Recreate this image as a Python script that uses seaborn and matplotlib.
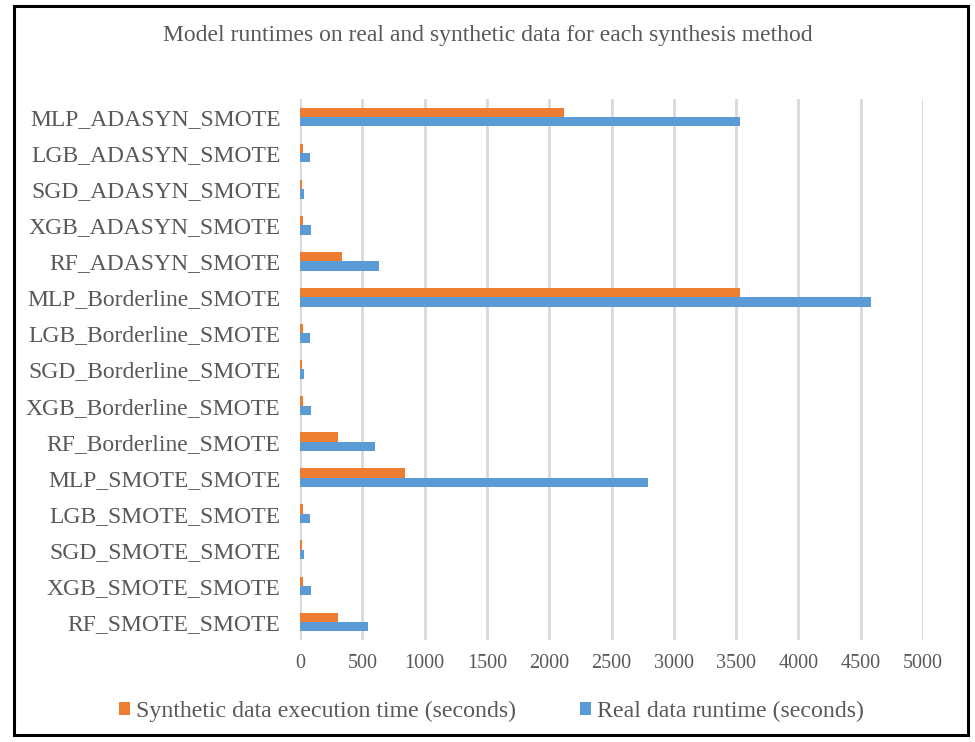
import matplotlib
matplotlib.use("Agg")
import matplotlib.pyplot as plt
from matplotlib.patches import Rectangle, Patch
import seaborn as sns
import pandas as pd

categories = [
    "MLP_ADASYN_SMOTE", "LGB_ADASYN_SMOTE", "SGD_ADASYN_SMOTE", "XGB_ADASYN_SMOTE", "RF_ADASYN_SMOTE",
    "MLP_Borderline_SMOTE", "LGB_Borderline_SMOTE", "SGD_Borderline_SMOTE", "XGB_Borderline_SMOTE", "RF_Borderline_SMOTE",
    "MLP_SMOTE_SMOTE", "LGB_SMOTE_SMOTE", "SGD_SMOTE_SMOTE", "XGB_SMOTE_SMOTE", "RF_SMOTE_SMOTE",
]
synthetic_time = [2120, 22, 13, 22, 336, 3530, 22, 13, 24, 307, 846, 22, 13, 24, 307]
real_time = [3530, 78, 32, 88, 638, 4580, 78, 32, 88, 602, 2795, 78, 32, 88, 546]
series_names = ["Synthetic data execution time (seconds)", "Real data runtime (seconds)"]
x_ticks = [0, 500, 1000, 1500, 2000, 2500, 3000, 3500, 4000, 4500, 5000]
title = "Model runtimes on real and synthetic data for each synthesis method"

colors = {series_names[0]: "#ED7D31", series_names[1]: "#5B9BD5"}

df = pd.DataFrame({
    "method": categories * 2,
    "value": synthetic_time + real_time,
    "series": [series_names[0]] * len(categories) + [series_names[1]] * len(categories),
})

sns.set_theme(style="white")
plt.rcParams["font.family"] = ["Liberation Serif", "DejaVu Serif"]
text_color = "#595959"

fig = plt.figure(figsize=(9.75, 7.42), dpi=100)
ax = fig.add_axes([300 / 975, 1 - 640 / 742, 623 / 975, 541 / 742])

sns.barplot(data=df, x="value", y="method", hue="series", order=categories,
            hue_order=series_names, palette=colors, orient="h", width=0.52,
            dodge=True, saturation=1, ax=ax, legend=False, errorbar=None,
            edgecolor="none", linewidth=0)

ax.set_xlim(0, 5000)
ax.set_xticks(x_ticks)
ax.set_xticklabels([str(t) for t in x_ticks])
ax.set_xlabel("")
ax.set_ylabel("")
ax.xaxis.grid(True, color="#D9D9D9", linewidth=2)
ax.yaxis.grid(False)
ax.set_axisbelow(True)
for s in ax.spines.values():
    s.set_visible(False)
ax.tick_params(axis="y", length=0, pad=14, labelsize=17, labelcolor=text_color)
ax.tick_params(axis="x", length=0, pad=10, labelsize=14.5, labelcolor=text_color)

fig.text(0.5, 1 - 36 / 742, title, ha="center", va="center", fontsize=17, color=text_color)

handles = [Patch(facecolor=colors[n], edgecolor="none", label=n) for n in series_names]
leg = fig.legend(handles=handles, loc="center", bbox_to_anchor=(0.504, 1 - 711 / 742), ncol=2,
                 frameon=False, fontsize=17.2, handlelength=0.45, handleheight=0.45,
                 handletextpad=0.25, columnspacing=2.7, labelcolor=text_color)

fig.patches.append(Rectangle((14 / 975, 1 - 735 / 742), 954 / 975, 729 / 742,
                             transform=fig.transFigure, fill=False, edgecolor="black",
                             linewidth=2.2, zorder=10))

fig.savefig("out.png", dpi=100, facecolor="white")
